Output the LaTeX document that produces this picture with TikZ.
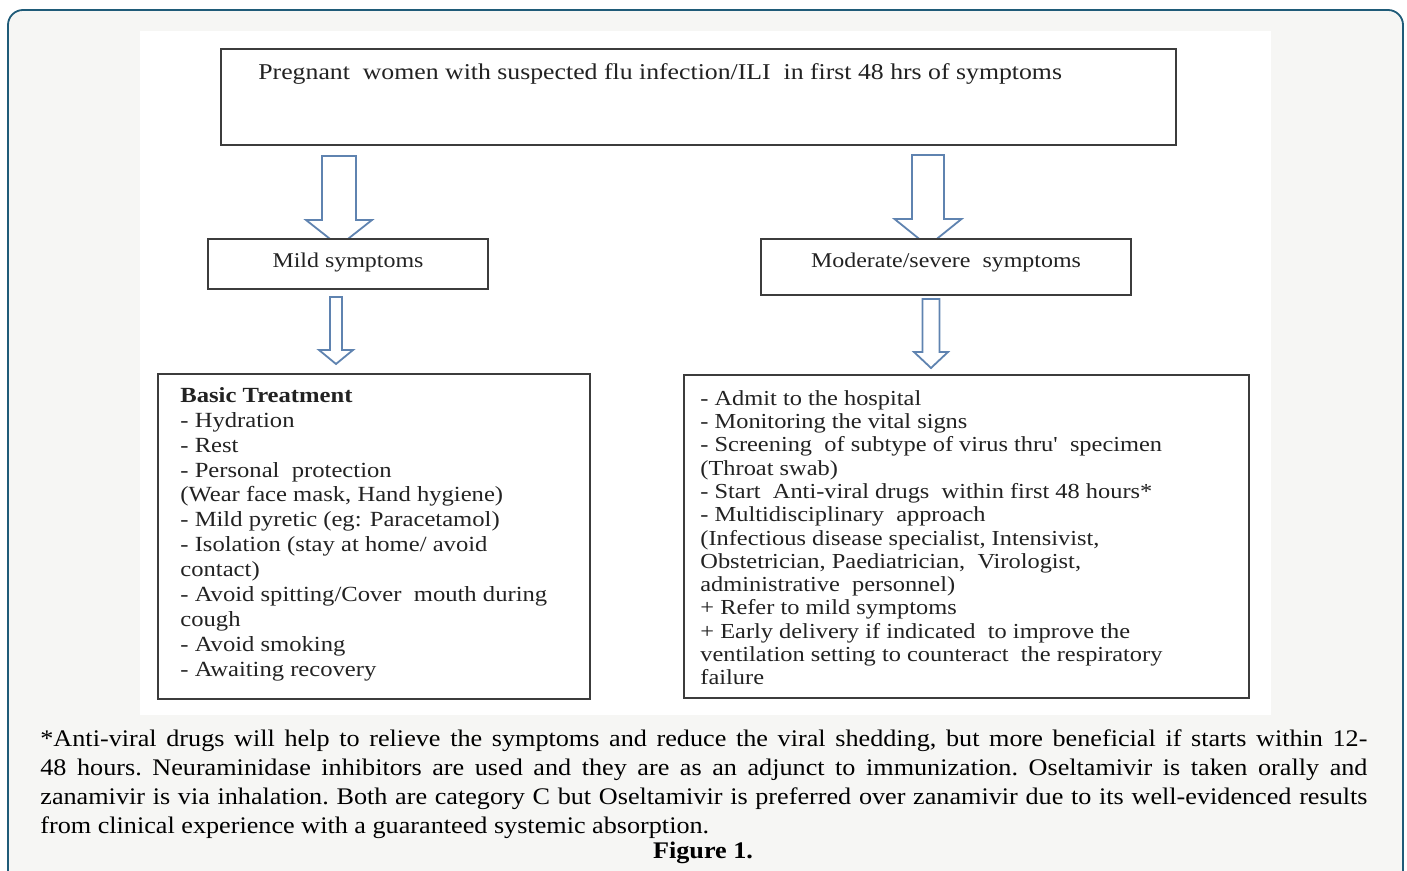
\documentclass[tikz,border=0pt]{standalone}
\usepackage{fontspec}
\setmainfont{Liberation Serif}
\newfontfamily\boxfont[FakeStretch=1.14]{Liberation Serif}
\newfontfamily\capfont[FakeStretch=1.10]{Liberation Serif}
\definecolor{framec}{HTML}{1F5B78}
\definecolor{bgc}{HTML}{F6F6F4}
\definecolor{arrc}{HTML}{5F83B0}
\definecolor{boxc}{HTML}{3C3C3C}
\definecolor{txtc}{HTML}{222222}
\newcommand\blockarrow[6]{%
  \draw[arrowst] (#1-#5,#2) -- (#1+#5,#2) -- (#1+#5,#3) -- (#1+#6,#3) -- (#1,#4)
    -- (#1-#6,#3) -- (#1-#5,#3) -- cycle;}
\tikzset{
  arrowst/.style={draw=arrc, line width=0.9pt, fill=white, line join=miter},
  boxst/.style={draw=boxc, line width=1.3pt, fill=white, inner sep=0pt},
  boxtext/.style={inner sep=0pt, text=txtc, font=\boxfont\fontsize{10.5}{12.45}\selectfont, align=left},
}
\begin{document}
\begin{tikzpicture}[x=0.5pt, y=-0.5pt]
\useasboundingbox (0,0) rectangle (1407,871);
\draw[draw=framec, line width=0.9pt, fill=bgc, rounded corners=7.5pt] (8,10) rectangle (1403,895);
\fill[white] (140,31) rectangle (1271,715);

% block arrows
\blockarrow{339}{156}{220}{246}{17}{33}
\blockarrow{928}{155}{219}{246}{16}{33.5}
\blockarrow{336}{297}{350}{364}{6}{17}
\blockarrow{931}{299}{352}{368}{8.5}{17}

% boxes
\node[boxst, minimum width=477.5pt, minimum height=48pt] (top) at (698.5,97) {};
\node[boxst, minimum width=140pt, minimum height=25pt] (mild) at (348,264) {};
\node[boxst, minimum width=185pt, minimum height=28pt] (mod) at (946,267) {};
\node[boxst, minimum width=216pt, minimum height=162.5pt] (basic) at (374,536.5) {};
\node[boxst, minimum width=282.5pt, minimum height=161.5pt] (severe) at (966.5,536.5) {};

% texts
\node[boxtext, anchor=base west, font=\boxfont\fontsize{11.3}{13}\selectfont] (toptext) at (258,80) {Pregnant\ \ women with suspected flu infection/ILI\ \ in first 48 hrs\ of symptoms};
\node[boxtext, anchor=base] (mildtext) at (348,268) {Mild symptoms};
\node[boxtext, anchor=base] (modtext) at (946,268) {Moderate/severe\ \ symptoms};

\node[boxtext, anchor=north west, font=\boxfont\fontsize{10.8}{12.45}\selectfont] (basictext) at (180,387) {\textbf{Basic Treatment}\\
- Hydration\\
- Rest\\
- Personal\ \ protection\\
(Wear face mask, Hand hygiene)\\
- Mild pyretic (eg: Paracetamol)\\
- Isolation (stay at home/\ avoid\\
contact)\\
- Avoid spitting/Cover\ \ mouth during\\
cough\\
- Avoid smoking\\
- Awaiting recovery};

\node[boxtext, anchor=north west, font=\boxfont\fontsize{10.7}{11.65}\selectfont] (severetext) at (700,390) {- Admit to the hospital\\
- Monitoring the vital signs\\
- Screening\ \ of subtype of virus thru'\ \ specimen\\
(Throat swab)\\
- Start\ \ Anti-viral drugs\ \ within first 48 hours*\\
- Multidisciplinary\ \ approach\\
(Infectious disease specialist, Intensivist,\\
Obstetrician, Paediatrician,\ \ Virologist,\\
administrative\ \ personnel)\\
+ Refer to mild symptoms\\
+ Early delivery if indicated\ \ to improve the\\
ventilation setting to counteract\ \ the respiratory\\
failure};

% caption
\node[inner sep=0pt, anchor=north west, text width=663.5pt, align=justify, text=black,
      font=\capfont\fontsize{11.9}{14.5}\selectfont\frenchspacing] (caption) at (40,729)
{*Anti-viral drugs will help to relieve the symptoms and reduce the viral shedding, but more beneficial if starts within 12-\linebreak
48 hours. Neuraminidase inhibitors are used and they are as an adjunct to immunization. Oseltamivir is taken orally and\linebreak
zanamivir is via inhalation. Both are category C but Oseltamivir is preferred over zanamivir due to its well-evidenced results\linebreak
from clinical experience with a guaranteed systemic absorption.};
\node[inner sep=0pt, anchor=base, font=\capfont\bfseries\fontsize{11.9}{14.5}\selectfont] (fig) at (703,858) {Figure 1.};
\end{tikzpicture}
\end{document}
